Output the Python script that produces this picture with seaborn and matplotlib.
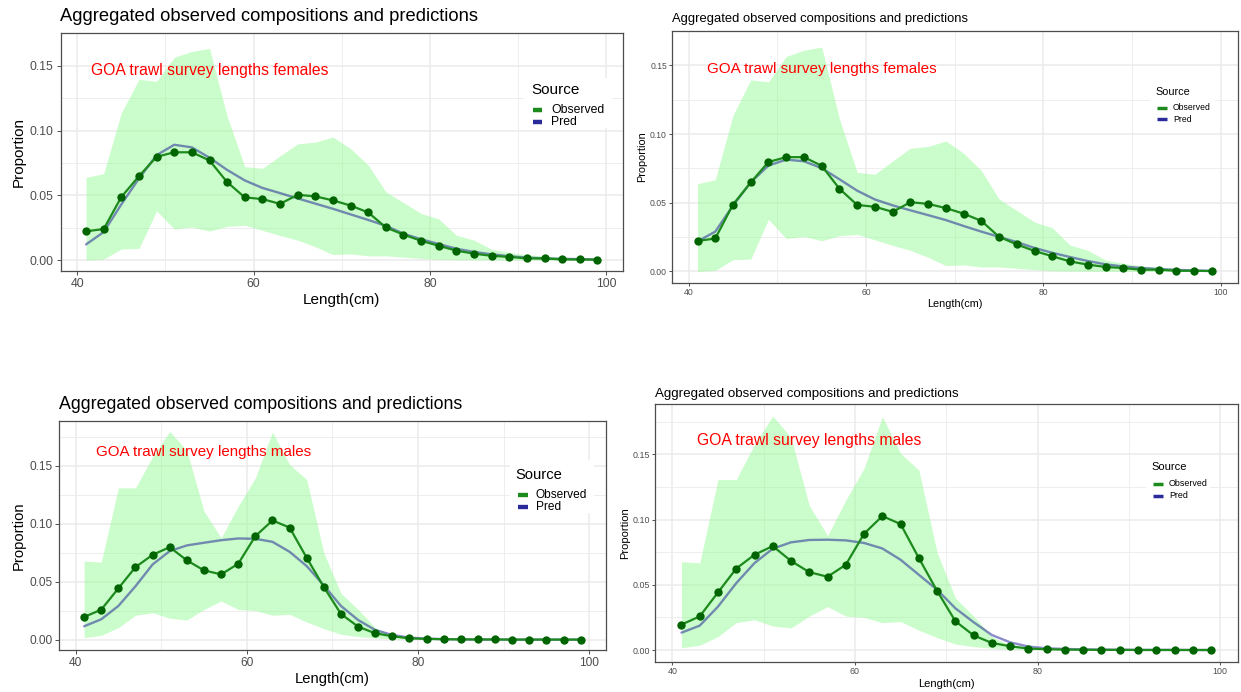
import numpy as np
import matplotlib
matplotlib.use("Agg")
import matplotlib.pyplot as plt
from matplotlib.lines import Line2D
from matplotlib.patches import Rectangle
import seaborn as sns

# ---- data -----------------------------------------------------------------
length_cm = [41, 43, 45, 47, 49, 51, 53, 55, 57, 59, 61, 63, 65, 67, 69,
             71, 73, 75, 77, 79, 81, 83, 85, 87, 89, 91, 93, 95, 97, 99]

female_observed = [0.0222, 0.0240, 0.0487, 0.0648, 0.0797, 0.0832, 0.0832, 0.0769, 0.0602, 0.0484,
                   0.0471, 0.0434, 0.0504, 0.0492, 0.0461, 0.0421, 0.0368, 0.0252, 0.0197, 0.0149,
                   0.0111, 0.0073, 0.0050, 0.0033, 0.0025, 0.0013, 0.0013, 0.0005, 0.0005, 0.0003]
female_pred_fit1 = [0.0121, 0.0217, 0.0430, 0.0630, 0.0810, 0.0890, 0.0870, 0.0790, 0.0696, 0.0615,
                    0.0557, 0.0517, 0.0476, 0.0436, 0.0396, 0.0353, 0.0310, 0.0265, 0.0204, 0.0161,
                    0.0124, 0.0088, 0.0063, 0.0045, 0.0030, 0.0020, 0.0013, 0.0010, 0.0008, 0.0005]
female_pred_fit2 = [0.0219, 0.0290, 0.0480, 0.0648, 0.0771, 0.0814, 0.0802, 0.0752, 0.0671, 0.0588,
                    0.0524, 0.0481, 0.0445, 0.0410, 0.0374, 0.0331, 0.0290, 0.0252, 0.0214, 0.0171,
                    0.0136, 0.0105, 0.0076, 0.0052, 0.0036, 0.0026, 0.0017, 0.0012, 0.0007, 0.0005]
female_lower = [0.0000, 0.0008, 0.0086, 0.0090, 0.0380, 0.0240, 0.0255, 0.0224, 0.0260, 0.0270,
                0.0230, 0.0190, 0.0154, 0.0103, 0.0043, 0.0048, 0.0033, 0.0033, 0.0023, 0.0013,
                0.0005, 0.0003, 0.0002, 0.0001, 0.0001, 0.0000, 0.0000, 0.0000, 0.0000, 0.0000]
female_upper = [0.0638, 0.0668, 0.1137, 0.1394, 0.1380, 0.1565, 0.1610, 0.1633, 0.1110, 0.0721,
                0.0708, 0.0804, 0.0897, 0.0910, 0.0950, 0.0860, 0.0734, 0.0527, 0.0444, 0.0360,
                0.0318, 0.0192, 0.0154, 0.0083, 0.0060, 0.0040, 0.0033, 0.0023, 0.0018, 0.0013]

male_observed = [0.0195, 0.0258, 0.0442, 0.0625, 0.0731, 0.0797, 0.0683, 0.0597, 0.0562, 0.0654,
                 0.0892, 0.1027, 0.0966, 0.0705, 0.0453, 0.0221, 0.0112, 0.0054, 0.0029, 0.0011,
                 0.0006, 0.0003, 0.0002, 0.0001, 0.0001, 0.0000, 0.0000, 0.0000, 0.0000, 0.0000]
male_pred_fit1 = [0.0115, 0.0175, 0.0290, 0.0460, 0.0648, 0.0763, 0.0812, 0.0835, 0.0857, 0.0872,
                  0.0869, 0.0843, 0.0757, 0.0634, 0.0467, 0.0290, 0.0169, 0.0083, 0.0040, 0.0017,
                  0.0009, 0.0004, 0.0002, 0.0001, 0.0001, 0.0000, 0.0000, 0.0000, 0.0000, 0.0000]
male_pred_fit2 = [0.0133, 0.0187, 0.0333, 0.0513, 0.0667, 0.0777, 0.0826, 0.0844, 0.0846, 0.0841,
                  0.0821, 0.0779, 0.0692, 0.0577, 0.0462, 0.0320, 0.0213, 0.0115, 0.0059, 0.0026,
                  0.0013, 0.0008, 0.0005, 0.0003, 0.0002, 0.0001, 0.0001, 0.0001, 0.0000, 0.0000]
male_lower = [0.0017, 0.0037, 0.0103, 0.0210, 0.0232, 0.0184, 0.0169, 0.0260, 0.0333, 0.0260,
              0.0250, 0.0210, 0.0218, 0.0152, 0.0095, 0.0046, 0.0026, 0.0014, 0.0006, 0.0003,
              0.0001, 0.0000, 0.0000, 0.0000, 0.0000, 0.0000, 0.0000, 0.0000, 0.0000, 0.0000]
male_upper = [0.0677, 0.0668, 0.1308, 0.1308, 0.1577, 0.1795, 0.1630, 0.1107, 0.0877, 0.1150,
              0.1394, 0.1790, 0.1508, 0.1380, 0.0748, 0.0399, 0.0260, 0.0103, 0.0037, 0.0011,
              0.0003, 0.0002, 0.0001, 0.0001, 0.0000, 0.0000, 0.0000, 0.0000, 0.0000, 0.0000]

x_ticks = [40, 60, 80, 100]
x_minor = [50, 70, 90]
y_ticks = [0.00, 0.05, 0.10, 0.15]
y_minor = [0.025, 0.075, 0.125, 0.175]
y_tick_labels = ["0.00", "0.05", "0.10", "0.15"]

title_text = "Aggregated observed compositions and predictions"
x_label = "Length(cm)"
y_label = "Proportion"
legend_title = "Source"
legend_labels = ["Observed", "Pred"]
note_female = "GOA trawl survey lengths females"
note_male = "GOA trawl survey lengths males"

# ---- style ----------------------------------------------------------------
sns.set_theme(style="white")
plt.rcParams["font.family"] = ["Liberation Sans", "DejaVu Sans"]

BAND = "palegreen"
OBS_LINE = "#1c8a1c"
OBS_POINT = "#006400"
PRED_LINE = "#00008b"
PRED_KEY = "#2a2a9a"
GRID = "#ebebeb"
BORDER = "#4d4d4d"
TICKTXT = "#4d4d4d"

W, H = 1241, 692
fig = plt.figure(figsize=(W / 100, H / 100), dpi=100)
fig.patch.set_facecolor("white")


def fx(px):
    return px / W


def fy(py):
    return 1 - py / H


def draw_panel(box, s, obs, pred, lo, hi, note, note_xy, note_size, title_pad, leg):
    x0, y0, x1, y1 = box
    ax = fig.add_axes([fx(x0), fy(y1), (x1 - x0) / W, (y1 - y0) / H])
    ax.set_facecolor("white")

    # ggplot-like 5% expansion of the data range
    xmin, xmax = min(length_cm), max(length_cm)
    xpad = 0.05 * (xmax - xmin)
    ax.set_xlim(xmin - xpad, xmax + xpad)
    ymin = min(lo + obs + pred)
    ymax = max(hi + obs + pred)
    ypad = 0.05 * (ymax - ymin)
    ax.set_ylim(ymin - ypad, ymax + ypad)

    ax.set_xticks(x_ticks)
    ax.set_xticks(x_minor, minor=True)
    ax.set_yticks(y_ticks)
    ax.set_yticklabels(y_tick_labels)
    ax.set_yticks(y_minor, minor=True)
    ax.grid(which="major", color=GRID, lw=1.1, zorder=0)
    ax.grid(which="minor", color=GRID, lw=0.6, zorder=0)
    ax.set_axisbelow(True)

    ax.fill_between(length_cm, lo, hi, color=BAND, alpha=0.5, lw=0, zorder=1)
    sns.lineplot(x=length_cm, y=pred, ax=ax, color=PRED_LINE, alpha=0.45, lw=1.7, zorder=3)
    sns.lineplot(x=length_cm, y=obs, ax=ax, color=OBS_LINE, lw=1.6, zorder=4)
    sns.scatterplot(x=length_cm, y=obs, ax=ax, color=OBS_POINT, s=36, linewidth=0, zorder=5)

    for sp in ax.spines.values():
        sp.set_color(BORDER)
        sp.set_linewidth(0.9)

    ax.tick_params(which="major", direction="out", length=2.75 * s, width=0.6,
                   color="#333333", labelsize=8.8 * s, labelcolor=TICKTXT,
                   pad=2.2 * s, bottom=True, left=True)
    ax.tick_params(which="minor", length=0)

    ax.set_xlabel(x_label, fontsize=11 * s, labelpad=2.75 * s, color="black")
    ax.set_ylabel(y_label, fontsize=11 * s, labelpad=2.75 * s, color="black")
    ax.set_title(title_text, loc="left", fontsize=13.2 * s, pad=title_pad, color="black")

    ax.text(note_xy[0], note_xy[1], note, color="red", fontsize=note_size,
            ha="center", va="center", zorder=6)

    # legend block
    (tx, ty), (kx0, kx1), lx, rows, bg = leg
    fig.add_artist(Rectangle((fx(bg[0]), fy(bg[3])), (bg[2] - bg[0]) / W, (bg[3] - bg[1]) / H,
                             transform=fig.transFigure, facecolor="white",
                             edgecolor="none", zorder=1))
    fig.text(fx(tx), fy(ty), legend_title, fontsize=11 * s, ha="left", va="center",
             color="black", zorder=3)
    for lab, col, ry in zip(legend_labels, [OBS_LINE, PRED_KEY], rows):
        fig.add_artist(Line2D([fx(kx0), fx(kx1)], [fy(ry), fy(ry)],
                              transform=fig.transFigure, color=col, lw=2.6 * s + 0.6,
                              solid_capstyle="butt", zorder=2))
        fig.text(fx(lx), fy(ry), lab, fontsize=8.8 * s, ha="left", va="center",
                 color="black", zorder=3)
    return ax


# top-left: females, first fit
draw_panel((60.5, 33.3, 623, 270.7), 1.0,
           female_observed, female_pred_fit1, female_lower, female_upper,
           note_female, (55, 0.1465), 11.3, 8.6,
           ((531.6, 90), (533, 541.5), 551, (110, 122), (524, 78, 612, 128)))

# top-right: females, second fit
draw_panel((671.8, 31, 1237.7, 282.7), 0.71,
           female_observed, female_pred_fit2, female_lower, female_upper,
           note_female, (55, 0.147), 11.0, 6.7,
           ((1155.7, 91.7), (1156.5, 1166.8), 1172.8, (107.7, 119.3), (1150, 80, 1215, 130)))

# bottom-left: males, first fit
draw_panel((59.3, 421, 605.5, 650), 0.97,
           male_observed, male_pred_fit1, male_lower, male_upper,
           note_male, (55, 0.1615), 10.9, 8.4,
           ((515.8, 475), (517.8, 527.7), 535.6, (495, 506.7), (510, 460, 594, 513)))

# bottom-right: males, second fit
draw_panel((655, 404.3, 1237.5, 661.7), 0.73,
           male_observed, male_pred_fit2, male_lower, male_upper,
           note_male, (55, 0.161), 11.3, 5.5,
           ((1151.9, 467.3), (1153, 1162.6), 1169, (484, 496), (1146, 457, 1210, 503)))

fig.savefig("out.png", dpi=100, facecolor="white")
